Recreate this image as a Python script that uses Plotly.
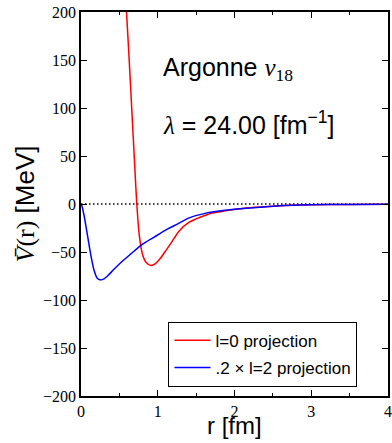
import plotly.graph_objects as go

# l=0 projection of the Argonne v18 potential (r in fm, V in MeV)
r_l0 = [0.55, 0.593, 0.63, 0.662, 0.70, 0.727, 0.76, 0.80, 0.85, 0.91, 0.97,
        1.04, 1.11, 1.17, 1.28, 1.41, 1.50, 1.63, 1.71, 1.85, 1.94, 2.07,
        2.15, 2.33, 2.59, 3.0, 3.5, 4.0]
v_l0 = [262, 200, 147, 98, 40, 0, -33, -52, -61, -64, -62,
        -56, -48, -41, -28, -19, -15.5, -11.5, -9.5, -7.5, -6.2, -5,
        -4.2, -3.2, -1.8, -0.9, -0.4, -0.2]

# 0.2 x l=2 projection
r_l2 = [0, 0.01, 0.04, 0.085, 0.13, 0.17, 0.21, 0.25, 0.30, 0.345, 0.43,
        0.52, 0.65, 0.79, 0.95, 1.13, 1.26, 1.41, 1.63, 1.85, 2.07, 2.33,
        2.59, 3.0, 3.5, 4.0]
v_l2 = [0, -1.5, -12, -33, -54, -69, -77, -79, -78, -75, -68,
        -61, -52, -42.6, -34.7, -26, -20.7, -14.5, -9.5, -6.8, -5, -3.3,
        -1.8, -0.9, -0.4, -0.2]

x_range = [0, 4]
y_range = [-200, 200]
x_ticks = [0, 1, 2, 3, 4]
y_ticks = [-200, -150, -100, -50, 0, 50, 100, 150, 200]

fig = go.Figure()

# dotted zero reference line
fig.add_trace(go.Scatter(
    x=x_range, y=[0, 0], mode="lines", showlegend=False, hoverinfo="skip",
    line=dict(color="black", width=1.5, dash="1.5px,2.5px"),
))

fig.add_trace(go.Scatter(
    x=r_l0, y=v_l0, mode="lines", name="l=0 projection", legendgroup="l0",
    line=dict(color="#ff0000", width=1.5, shape="spline", smoothing=0.8),
))
fig.add_trace(go.Scatter(
    x=r_l2, y=v_l2, mode="lines", name=".2 \u00d7 l=2 projection", legendgroup="l2",
    line=dict(color="#0000ff", width=1.5, shape="spline", smoothing=0.8),
))

serif = "Liberation Serif"
sans = "Liberation Sans"

axis_common = dict(
    showgrid=False, zeroline=False, showline=True, linecolor="black",
    linewidth=1.5, mirror="ticks", ticks="inside", ticklen=6, tickwidth=1,
    tickcolor="black", tickfont=dict(family=serif, size=16, color="black"),
    automargin=False, ticklabeloverflow="allow",
)

fig.update_xaxes(
    range=x_range, tickvals=x_ticks, ticktext=[str(t) for t in x_ticks],
    minor=dict(dtick=0.5, ticks="inside", ticklen=3, tickcolor="black"),
    **axis_common,
)
fig.update_yaxes(
    range=y_range, tickvals=y_ticks,
    title=dict(
        text=("<span style='font-family:Liberation Serif'><i>V\u0304</i>(r)</span>"
              " [MeV]"),
        font=dict(family=sans, size=26, color="black"), standoff=1),
    **axis_common,
)

# x-axis title placed below the tick labels
fig.add_annotation(
    xref="paper", yref="paper", x=0.5, y=-0.118, xanchor="center", yanchor="bottom",
    showarrow=False, text="r [fm]",
    font=dict(family=sans, size=24, color="black"),
)

fig.add_annotation(
    xref="paper", yref="paper", x=0.262, y=0.852, xanchor="left", yanchor="middle",
    showarrow=False,
    text="Argonne <span style='font-family:Liberation Serif'><i>v</i><sub>18</sub></span>",
    font=dict(family=sans, size=25, color="black"),
)
fig.add_annotation(
    xref="paper", yref="paper", x=0.262, y=0.711, xanchor="left", yanchor="middle",
    showarrow=False,
    text="<span style='font-family:Liberation Serif'><i>\u03bb</i></span> = 24.00 [fm<sup>\u22121</sup>]",
    font=dict(family=sans, size=25, color="black"),
)

fig.update_layout(
    width=392, height=443,
    margin=dict(l=81, r=4, t=12, b=47),
    paper_bgcolor="white", plot_bgcolor="white",
    legend=dict(
        x=0.285, y=0.024, xanchor="left", yanchor="bottom",
        bgcolor="white", bordercolor="black", borderwidth=1,
        font=dict(family=sans, size=17, color="black"),
        itemwidth=36, tracegroupgap=2,
    ),
)

fig.write_html("out.html")
